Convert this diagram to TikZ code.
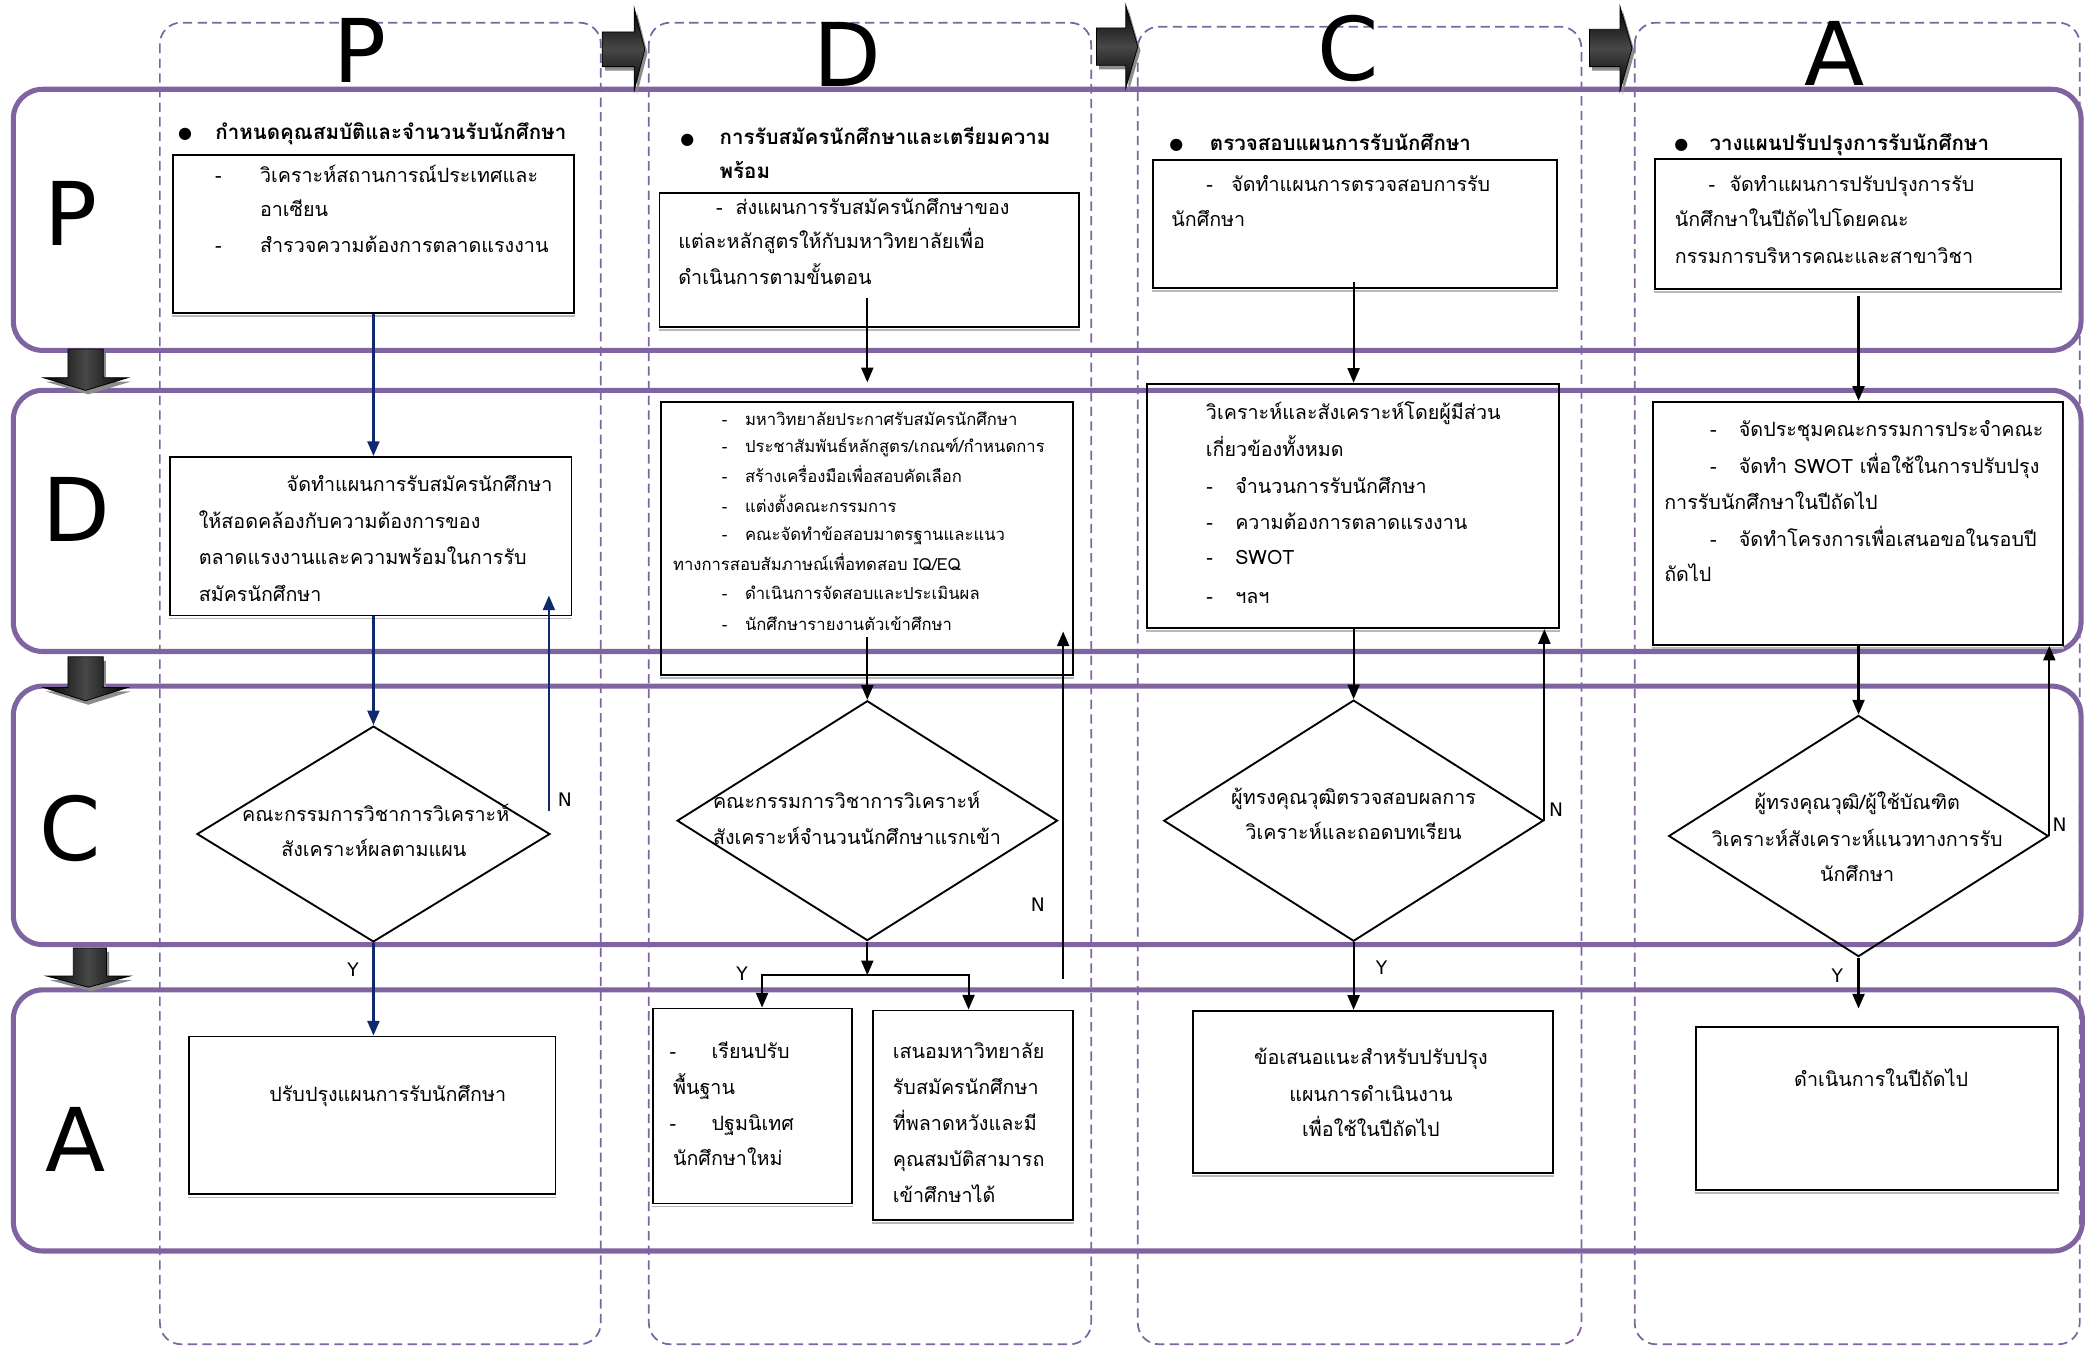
\documentclass[tikz,border=0pt]{standalone}
\usepackage{fontspec}
\usetikzlibrary{shapes.geometric,arrows.meta}
\newfontfamily\thai[Script=Thai]{Loma}
\newfontfamily\dejavu{DejaVu Sans}
\definecolor{pur}{HTML}{8064A2}
\definecolor{navy}{RGB}{16,40,110}
\newcommand\fs[2]{\fontsize{#1}{#2}\selectfont}
\tikzset{
 colbox/.style={draw=pur, dash pattern=on 7pt off 4pt, line width=1.3pt, rounded corners=16pt},
 rowbox/.style={draw=pur, line width=3.8pt, rounded corners=22pt},
 box/.style={draw, line width=1.4pt, inner sep=0pt},
 dia/.style={draw, diamond, line width=1.4pt, inner sep=0pt},
 tx/.style={font=\thai\fs{14.8}{27}, inner sep=0pt, text height=7.4pt, text depth=0pt, anchor=west},
 txc/.style={tx, anchor=center},
 txs/.style={font=\thai\fs{12.5}{22}, inner sep=0pt, text height=6.2pt, text depth=0pt, anchor=west},
 hd/.style={font=\thai\bfseries\fs{15.4}{27}, inner sep=0pt, text height=7.6pt, text depth=0pt, anchor=west},
 bul/.style={font=\dejavu\fs{12}{14}, inner sep=0pt},
 bigl/.style={font=\dejavu\fs{66}{70}, inner sep=0pt},
 lab/.style={font=\dejavu\fs{14}{16}, inner sep=0pt},
 conn/.style={line width=1.6pt, -{Triangle[width=9pt,length=11pt]}},
 seg/.style={line width=1.6pt},
 blk/.style={draw=black, line width=0.6pt},
 shd/.style={fill=black!45},
}
\newcommand\mkbox[5]{%
 \pgfmathsetmacro\bcx{(#2+#4)/2}%
 \pgfmathsetmacro\bcy{(#3+#5)/2}%
 \pgfmathsetmacro\bw{#4-#2}%
 \pgfmathsetmacro\bh{#5-#3}%
 \node[box, minimum width=\bw pt, minimum height=\bh pt] (#1) at (\bcx,\bcy) {};
 \draw[gray!55, line width=1.2pt] ([yshift=-1.6pt]#1.south west) -- ([yshift=-1.6pt]#1.south east);
}
\begin{document}
\begin{tikzpicture}[x=1pt,y=-1pt]
\useasboundingbox (0,0) rectangle (1568,1011);
% columns
\draw[colbox] (120,17) rectangle (451,1009);
\draw[colbox] (487,17) rectangle (819,1009);
\draw[colbox] (854,20) rectangle (1187,1009);
\draw[colbox] (1227,17) rectangle (1561,1009);
% rows
\draw[rowbox] (10,67) rectangle (1562,263);
\draw[rowbox] (10,293) rectangle (1562,489);
\draw[rowbox] (10,515) rectangle (1562,709);
\draw[rowbox] (10,743) rectangle (1563,939);
% big letters
\node[bigl] (LP) at (270,37.5) {P};
\node[bigl] (LD) at (636,41) {D};
\node[bigl] (LC) at (1012,36.5) {C};
\node[bigl] (LA) at (1377,40) {A};
\node[bigl] (RP) at (53,160) {P};
\node[bigl] (RD) at (57.5,382.5) {D};
\node[bigl] (RC) at (52.5,622) {C};
\node[bigl] (RA) at (57,855) {A};
% boxes
\mkbox{bP1}{129.6}{116.5}{431}{235}
\mkbox{bD1}{495}{145}{810}{245.5}
\mkbox{bC1}{865.5}{120}{1168.5}{216}
\mkbox{bA1}{1242}{119.5}{1547}{217}
\mkbox{bP2}{127.6}{343}{429}{462}
\mkbox{bD2}{496}{301.5}{805.5}{506.6}
\mkbox{bC2}{861}{288}{1170}{471.5}
\mkbox{bA2}{1240.5}{301.5}{1548.5}{484}
\mkbox{bP4}{142}{778}{417}{896.5}
\mkbox{bD4a}{490}{757}{639.5}{903.3}
\mkbox{bD4b}{655.5}{758.5}{805.5}{915.7}
\mkbox{bC4}{895.5}{758.7}{1165.6}{880.6}
\mkbox{bA4}{1273}{771}{1545}{893}
% diamonds
\node[dia, minimum width=265pt, minimum height=162pt] (dP) at (280.3,626) {};
\node[dia, minimum width=285.5pt, minimum height=180pt] (dD) at (651,616) {};
\node[dia, minimum width=285pt, minimum height=181pt] (dC) at (1016,616) {};
\node[dia, minimum width=285pt, minimum height=181pt] (dA) at (1395,627.5) {};
% headings
\node[bul] (bu1) at (139,101) {●};
\node[hd] (h1) at (161.5,101) {กำหนดคุณสมบัติและจำนวนรับนักศึกษา};
\node[bul] (bu2) at (516,105) {●};
\node[hd] (h2a) at (540,105) {การรับสมัครนักศึกษาและเตรียมความ};
\node[hd] (h2b) at (540,130) {พร้อม};
\node[bul] (bu3) at (883,109) {●};
\node[hd] (h3) at (908,109) {ตรวจสอบแผนการรับนักศึกษา};
\node[bul] (bu4) at (1262,109) {●};
\node[hd] (h4) at (1283,109) {วางแผนปรับปรุงการรับนักศึกษา};
% P row texts
\node[txc] (p1a) at (164,133) {-};
\node[tx] (p1b) at (195,133) {วิเคราะห์สถานการณ์ประเทศและ};
\node[tx] (p1c) at (195,159) {อาเซียน};
\node[txc] (p1d) at (164,186) {-};
\node[tx] (p1e) at (195,186) {สำรวจความต้องการตลาดแรงงาน};
\node[txc] (d1a) at (540,157.6) {-};
\node[tx] (d1b) at (552,157.6) {ส่งแผนการรับสมัครนักศึกษาของ};
\node[tx] (d1c) at (509,183) {แต่ละหลักสูตรให้กับมหาวิทยาลัยเพื่อ};
\node[tx] (d1d) at (509,210) {ดำเนินการตามขั้นตอน};
\node[txc] (c1a) at (908,140) {-};
\node[tx] (c1b) at (924,140) {จัดทำแผนการตรวจสอบการรับ};
\node[tx] (c1c) at (879,166.6) {นักศึกษา};
\node[txc] (a1a) at (1285,140) {-};
\node[tx] (a1b) at (1298,140) {จัดทำแผนการปรับปรุงการรับ};
\node[tx] (a1c) at (1257,166.6) {นักศึกษาในปีถัดไปโดยคณะ};
\node[tx] (a1d) at (1257,194) {กรรมการบริหารคณะและสาขาวิชา};
% D row texts
\node[tx] (p2a) at (215,365) {จัดทำแผนการรับสมัครนักศึกษา};
\node[tx] (p2b) at (149,393) {ให้สอดคล้องกับความต้องการของ};
\node[tx] (p2c) at (149,420) {ตลาดแรงงานและความพร้อมในการรับ};
\node[tx] (p2d) at (149,448) {สมัครนักศึกษา};
\foreach \yy/\nm in {316.5/q1,336.5/q2,359/q3,381.5/q4,402.8/q5,446.6/q6,470/q7}
  \node[txs, anchor=center] (\nm) at (544,\yy) {-};
\node[txs] (d2a) at (559,316.5) {มหาวิทยาลัยประกาศรับสมัครนักศึกษา};
\node[txs] (d2b) at (559,336.5) {ประชาสัมพันธ์หลักสูตร/เกณฑ์/กำหนดการ};
\node[txs] (d2c) at (559,359) {สร้างเครื่องมือเพื่อสอบคัดเลือก};
\node[txs] (d2d) at (559,381.5) {แต่งตั้งคณะกรรมการ};
\node[txs] (d2e) at (559,402.8) {คณะจัดทำข้อสอบมาตรฐานและแนว};
\node[txs] (d2f) at (505,425.3) {ทางการสอบสัมภาษณ์เพื่อทดสอบ IQ/EQ};
\node[txs] (d2g) at (559,446.6) {ดำเนินการจัดสอบและประเมินผล};
\node[txs] (d2h) at (559,470) {นักศึกษารายงานตัวเข้าศึกษา};
\node[tx] (c2a) at (905,311.5) {วิเคราะห์และสังเคราะห์โดยผู้มีส่วน};
\node[tx] (c2b) at (905,339) {เกี่ยวข้องทั้งหมด};
\foreach \yy/\nm in {366.5/r1,394/r2,420/r3,449/r4}
  \node[txc] (\nm) at (908,\yy) {-};
\node[tx] (c2c) at (927,366.5) {จำนวนการรับนักศึกษา};
\node[tx] (c2d) at (927,394) {ความต้องการตลาดแรงงาน};
\node[tx] (c2e) at (927,420) {SWOT};
\node[tx] (c2f) at (927,449) {ฯลฯ};
\foreach \yy/\nm in {324/s1,351.5/s2,406.5/s3}
  \node[txc] (\nm) at (1286,\yy) {-};
\node[tx] (a2a) at (1305,324) {จัดประชุมคณะกรรมการประจำคณะ};
\node[tx] (a2b) at (1305,351.5) {จัดทำ SWOT เพื่อใช้ในการปรับปรุง};
\node[tx] (a2c) at (1249,379) {การรับนักศึกษาในปีถัดไป};
\node[tx] (a2d) at (1305,406.5) {จัดทำโครงการเพื่อเสนอขอในรอบปี};
\node[tx] (a2e) at (1249,432.8) {ถัดไป};
% C row texts
\node[txc] (p3a) at (282,613) {คณะกรรมการวิชาการวิเคราะห์};
\node[txc] (p3b) at (280.6,639) {สังเคราะห์ผลตามแผน};
\node[tx] (d3a) at (535,603.4) {คณะกรรมการวิชาการวิเคราะห์};
\node[tx] (d3b) at (535,630.5) {สังเคราะห์จำนวนนักศึกษาแรกเข้า};
\node[txc] (c3a) at (1016,600.5) {ผู้ทรงคุณวุฒิตรวจสอบผลการ};
\node[txc] (c3b) at (1016,626.7) {วิเคราะห์และถอดบทเรียน};
\node[txc] (a3a) at (1394,604) {ผู้ทรงคุณวุฒิ/ผู้ใช้บัณฑิต};
\node[txc] (a3b) at (1394,631.7) {วิเคราะห์สังเคราะห์แนวทางการรับ};
\node[txc] (a3c) at (1394,658) {นักศึกษา};
% A row texts
\node[tx] (p4a) at (202,823) {ปรับปรุงแผนการรับนักศึกษา};
\node[txc] (e1) at (505,791) {-};
\node[tx] (d4a) at (534,791) {เรียนปรับ};
\node[tx] (d4b) at (505,818) {พื้นฐาน};
\node[txc] (e2) at (505,845) {-};
\node[tx] (d4c) at (534,845) {ปฐมนิเทศ};
\node[tx] (d4d) at (505,871) {นักศึกษาใหม่};
\node[tx] (d5a) at (670,791) {เสนอมหาวิทยาลัย};
\node[tx] (d5b) at (670,818) {รับสมัครนักศึกษา};
\node[tx] (d5c) at (670,845) {ที่พลาดหวังและมี};
\node[tx] (d5d) at (670,872) {คุณสมบัติสามารถ};
\node[tx] (d5e) at (670,899) {เข้าศึกษาได้};
\node[txc] (c4a) at (1029,795.6) {ข้อเสนอแนะสำหรับปรับปรุง};
\node[txc] (c4b) at (1029,823) {แผนการดำเนินงาน};
\node[txc] (c4c) at (1029,849.5) {เพื่อใช้ในปีถัดไป};
\node[txc] (a4a) at (1412,811.7) {ดำเนินการในปีถัดไป};
% connectors P column
\draw[conn, navy] (bP1.south) -- (bP1.south |- bP2.north);
\draw[conn, navy] (dP.north |- bP2.south) -- (dP.north);
\draw[conn, navy] (dP.south) -- (dP.south |- bP4.north);
\coordinate (nP) at (412,609);
\coordinate (nPe) at (412,447);
\draw[conn, navy] (nP) -- (nPe);
% connectors D column
\coordinate (d1s) at (651,224);
\coordinate (d1e) at (651,287);
\draw[conn] (d1s) -- (d1e);
\coordinate (d2s) at (651,478);
\draw[conn] (d2s) -- (d2s |- dD.north);
\coordinate (dj) at (651,732);
\draw[conn] (dD.south) -- (dj);
\coordinate (djl) at (572,732);
\coordinate (djr) at (727,732);
\draw[seg, line cap=rect] (djl) -- (djr);
\draw[conn] (djl) -- (djl |- bD4a.north);
\draw[conn] (djr) -- (djr |- bD4b.north);
\coordinate (nD) at (798,735);
\coordinate (nDe) at (798,474);
\draw[conn] (nD) -- (nDe);
% connectors C column
\coordinate (c1s) at (1016,212);
\draw[conn] (c1s) -- (c1s |- bC2.north);
\draw[conn] (dC.north |- bC2.south) -- (dC.north);
\draw[conn] (dC.east) -- (dC.east |- bC2.south);
\draw[conn] (dC.south) -- (dC.south |- bC4.north);
% connectors A column
\coordinate (a1s) at (1395,222);
\draw[conn] (a1s) -- (a1s |- bA2.north);
\draw[conn] (dA.north |- bA2.south) -- (dA.north);
\draw[conn] (dA.east) -- (dA.east |- bA2.south);
\coordinate (aYe) at (1395,757);
\draw[conn] (dA.south) -- (aYe);
% labels
\node[lab] (N1) at (424,600.5) {N};
\node[lab] (N2) at (779,679) {N};
\node[lab] (N3) at (1168,608) {N};
\node[lab] (N4) at (1546,619) {N};
\node[lab] (Y1) at (265,728) {Y};
\node[lab] (Y2) at (557,731) {Y};
\node[lab] (Y3) at (1037,726) {Y};
\node[lab] (Y4) at (1379,732) {Y};
% block arrows right
\foreach \xa/\xb/\xc/\ya/\yb/\yc/\yd/\ye in {452/476/484/24/50/6/68/37, 823/845/854/21/49/4/66/35, 1193/1216/1225/22/50/5/68/36}{
  \fill[shd, shift={(2,3)}] (\xa,\ya) -- (\xb,\ya) -- (\xb,\yc) -- (\xc,\ye) -- (\xb,\yd) -- (\xb,\yb) -- (\xa,\yb) -- cycle;
  \shade[blk, top color=black, bottom color=black, middle color=black!72] (\xa,\ya) -- (\xb,\ya) -- (\xb,\yc) -- (\xc,\ye) -- (\xb,\yd) -- (\xb,\yb) -- (\xa,\yb) -- cycle;
}
% block arrows down
\foreach \sa/\sb/\ha/\hb/\ya/\yb/\yc/\tx in {51/77.5/32.5/96/262/283.5/293/64.25, 51/77.5/32.5/96/493/516/526/64.25, 55/80/35/97.5/711.5/732.6/741/66.25}{
  \fill[shd, shift={(2,3)}] (\sa,\ya) -- (\sb,\ya) -- (\sb,\yb) -- (\hb,\yb) -- (\tx,\yc) -- (\ha,\yb) -- (\sa,\yb) -- cycle;
  \shade[blk, left color=black, right color=black, middle color=black!72] (\sa,\ya) -- (\sb,\ya) -- (\sb,\yb) -- (\hb,\yb) -- (\tx,\yc) -- (\ha,\yb) -- (\sa,\yb) -- cycle;
}
\end{tikzpicture}
\end{document}
